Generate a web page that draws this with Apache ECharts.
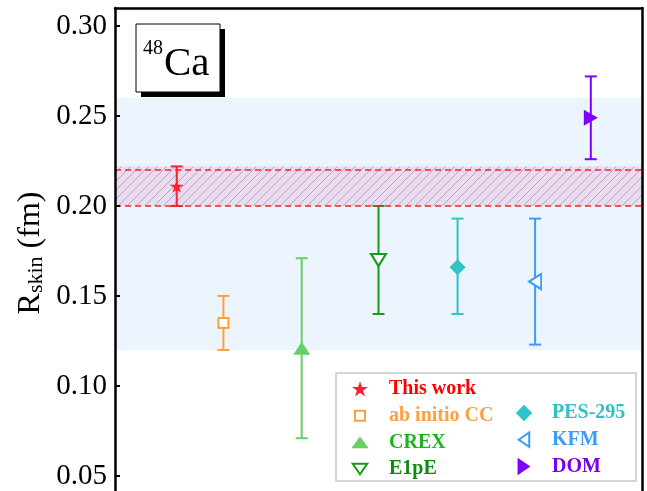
<!DOCTYPE html>
<html><head><meta charset="utf-8">
<script src="https://cdn.jsdelivr.net/npm/echarts@6/dist/echarts.min.js"></script>
<style>html,body{margin:0;padding:0;background:#fff}#c{width:647px;height:491px}</style>
</head><body><div id="c"></div>
<script>
// ---- data ----
const names = ['This work', 'ab initio CC', 'CREX', 'E1pE', 'PES-295', 'KFM', 'DOM'];
const xPos = [0.82, 1.44, 2.48, 3.5, 4.55, 5.58, 6.32];
const centers = [0.211, 0.135, 0.121, 0.170, 0.166, 0.158, 0.249];
const lowers = [0.200, 0.120, 0.071, 0.140, 0.140, 0.123, 0.226];
const uppers = [0.222, 0.150, 0.171, 0.200, 0.193, 0.193, 0.272];
const blueBand = [0.12, 0.26];
const hatchBand = [0.200, 0.222];
const yTickLabels = ['0.05', '0.10', '0.15', '0.20', '0.25', '0.30'];

// ---- styles ----
const colors = ['#FF1F2F', '#FFA040', '#66D066', '#1A9A1A', '#2EC4C8', '#3D9BFF', '#8000FF'];
const textColors = ['#FF0000', '#FF9F3F', '#1DB31D', '#0E8A0E', '#30C0C8', '#3D9BFF', '#7B00E6'];
const hollow = [false, true, false, true, false, true, false];
const symbols = ['path://M9,2.6 L10.57,7.44 L15.66,7.44 L11.54,10.43 L13.11,15.26 L9,12.27 L4.89,15.26 L6.46,10.43 L2.34,7.44 L7.43,7.44 Z',
  'rect', 'triangle', 'triangle', 'diamond', 'triangle', 'triangle'];
const symSizes = [[14, 13], 10, [17, 13], [15, 12], [16, 16], [15, 12], [16, 14]];
const symRot = [0, 0, 0, 180, 0, 90, -90];
const pad = 'path://M0,0 M18,18 ';
const icons = [
  pad + 'M9,2.3 L10.62,7.3 L15.9,7.3 L11.64,10.39 L13.27,15.4 L9,12.3 L4.73,15.4 L6.36,10.39 L2.1,7.3 L7.38,7.3 Z',
  pad + 'M4.7,4.7 L13.3,4.7 L13.3,13.3 L4.7,13.3 Z',
  pad + 'M1.5,14 L16.5,14 L9,4 Z',
  pad + 'M2.8,4.5 L15.2,4.5 L9,13.5 Z',
  pad + 'M9,2 L16,9 L9,16 L2,9 Z',
  pad + 'M4.5,9 L13.5,2.8 L13.5,15.2 Z',
  pad + 'M3.5,1.5 L14.5,9 L3.5,16.5 Z'
];
const serif = '"Liberation Serif", "Times New Roman", serif';

// hatch pattern
const pc = document.createElement('canvas');
pc.width = 9; pc.height = 9;
const pctx = pc.getContext('2d');
pctx.fillStyle = '#EADCF0';
pctx.fillRect(0, 0, 9, 9);
pctx.strokeStyle = 'rgba(150,128,155,0.75)';
pctx.lineWidth = 0.8;
pctx.beginPath();
pctx.moveTo(0, 9); pctx.lineTo(9, 0);
pctx.moveTo(-1, 1); pctx.lineTo(1, -1);
pctx.moveTo(8, 10); pctx.lineTo(10, 8);
pctx.stroke();

const chart = echarts.init(document.getElementById('c'), null, {renderer: 'canvas'});

const series = [];
series.push({
  type: 'scatter', name: '_bands', data: [], silent: true, z: 1,
  markArea: {
    silent: true,
    data: [
      [{yAxis: blueBand[0], itemStyle: {color: '#ECF4FE'}}, {yAxis: blueBand[1]}],
      [{yAxis: hatchBand[0], itemStyle: {color: {image: pc, repeat: 'repeat'}}}, {yAxis: hatchBand[1]}]
    ]
  },
  markLine: {
    silent: true, symbol: 'none', label: {show: false},
    lineStyle: {color: '#FF2020', type: [6, 4], width: 1.5},
    data: [{yAxis: hatchBand[0]}, {yAxis: hatchBand[1]}]
  }
});
series.push({
  type: 'custom', name: '_err', silent: true, z: 3,
  data: xPos.map((x, i) => [x, lowers[i], uppers[i]]),
  renderItem: (params, api) => {
    const x = api.value(0);
    const p1 = api.coord([x, api.value(1)]);
    const p2 = api.coord([x, api.value(2)]);
    const c = colors[params.dataIndex];
    const hw = 6;
    const st = {stroke: c, lineWidth: 2};
    return {type: 'group', children: [
      {type: 'line', shape: {x1: p1[0], y1: p1[1], x2: p2[0], y2: p2[1]}, style: st},
      {type: 'line', shape: {x1: p1[0] - hw, y1: p1[1], x2: p1[0] + hw, y2: p1[1]}, style: st},
      {type: 'line', shape: {x1: p2[0] - hw, y1: p2[1], x2: p2[0] + hw, y2: p2[1]}, style: st}
    ]};
  }
});
names.forEach((n, i) => {
  series.push({
    type: 'scatter', name: n, z: 4,
    data: [[xPos[i], centers[i]]],
    symbol: symbols[i], symbolSize: symSizes[i], symbolRotate: symRot[i],
    itemStyle: hollow[i]
      ? {color: '#ffffff', borderColor: colors[i], borderWidth: 2, opacity: 1}
      : {color: colors[i], opacity: 1}
  });
});

const legendBase = {
  orient: 'vertical', itemWidth: 21, itemHeight: 21, itemGap: 4.7, padding: 0,
  symbolRotate: 0, selectedMode: false, z: 5,
  textStyle: {fontFamily: serif, fontWeight: 'bold', fontSize: 20, padding: [0, 0, 0, 13.5]}
};
const mkItem = i => ({name: names[i], icon: icons[i], textStyle: {color: textColors[i]}});

const option = {
  animation: false,
  backgroundColor: '#ffffff',
  grid: {left: 115, right: 5, top: 8, height: 558, containLabel: false, outerBoundsMode: 'none'},
  xAxis: {
    type: 'value', min: 0, max: 7, position: 'top', z: 10,
    axisLine: {show: true, onZero: false, lineStyle: {color: '#000', width: 2.5}},
    axisTick: {show: false}, axisLabel: {show: false}, splitLine: {show: false}
  },
  yAxis: [{
    type: 'value', min: 0, max: 0.31, interval: 0.05, z: 10,
    axisLine: {show: true, onZero: false, lineStyle: {color: '#000', width: 2.5}},
    axisTick: {show: true, inside: true, length: 5, lineStyle: {color: '#000', width: 2}},
    axisLabel: {
      fontFamily: serif, fontSize: 29, color: '#000', margin: 8, showMaxLabel: false,
      formatter: v => { const s = v.toFixed(2); return yTickLabels.indexOf(s) >= 0 ? s : ''; }
    },
    splitLine: {show: false}
  }, {
    type: 'value', min: 0, max: 0.31, position: 'right', z: 10,
    axisLine: {show: true, onZero: false, lineStyle: {color: '#000', width: 2.5}},
    axisTick: {show: false}, axisLabel: {show: false}, splitLine: {show: false}
  }],
  legend: [
    Object.assign({}, legendBase, {left: 348.5, top: 378.5, data: [0, 1, 2, 3].map(mkItem)}),
    Object.assign({}, legendBase, {left: 512.5, top: 402.5, textStyle: Object.assign({}, legendBase.textStyle, {padding: [0, 0, 0, 12.5]}), data: [4, 5, 6].map(mkItem)})
  ],
  graphic: [
    {type: 'rect', z: 3, shape: {x: 336, y: 373, width: 300, height: 108},
      style: {fill: '#fff', stroke: '#c8c8c8', lineWidth: 1.5}},
    {type: 'rect', z: 20, shape: {x: 141, y: 29, width: 84, height: 68}, style: {fill: '#000'}},
    {type: 'rect', z: 21, shape: {x: 136, y: 24, width: 84, height: 68},
      style: {fill: '#fff', stroke: '#000', lineWidth: 1}},
    {type: 'text', z: 22, x: 143, y: 49,
      style: {text: '48', font: '20px "Liberation Serif"', fill: '#000', verticalAlign: 'middle'}},
    {type: 'text', z: 22, x: 164, y: 64,
      style: {text: 'Ca', font: '41px "Liberation Serif"', fill: '#000', verticalAlign: 'middle'}},
    {type: 'text', z: 22, x: 31, y: 253, rotation: Math.PI / 2,
      style: {
        text: '{r|R}{s|skin}{r| (fm)}', align: 'center', verticalAlign: 'middle',
        rich: {
          r: {fontFamily: serif, fontSize: 32, color: '#000', lineHeight: 32, verticalAlign: 'top'},
          s: {fontFamily: serif, fontSize: 22, color: '#000', lineHeight: 22, padding: [15, 0, 0, 0], verticalAlign: 'bottom'}
        }
      }}
  ],
  series: series
};
chart.setOption(option);
</script>
</body></html>
